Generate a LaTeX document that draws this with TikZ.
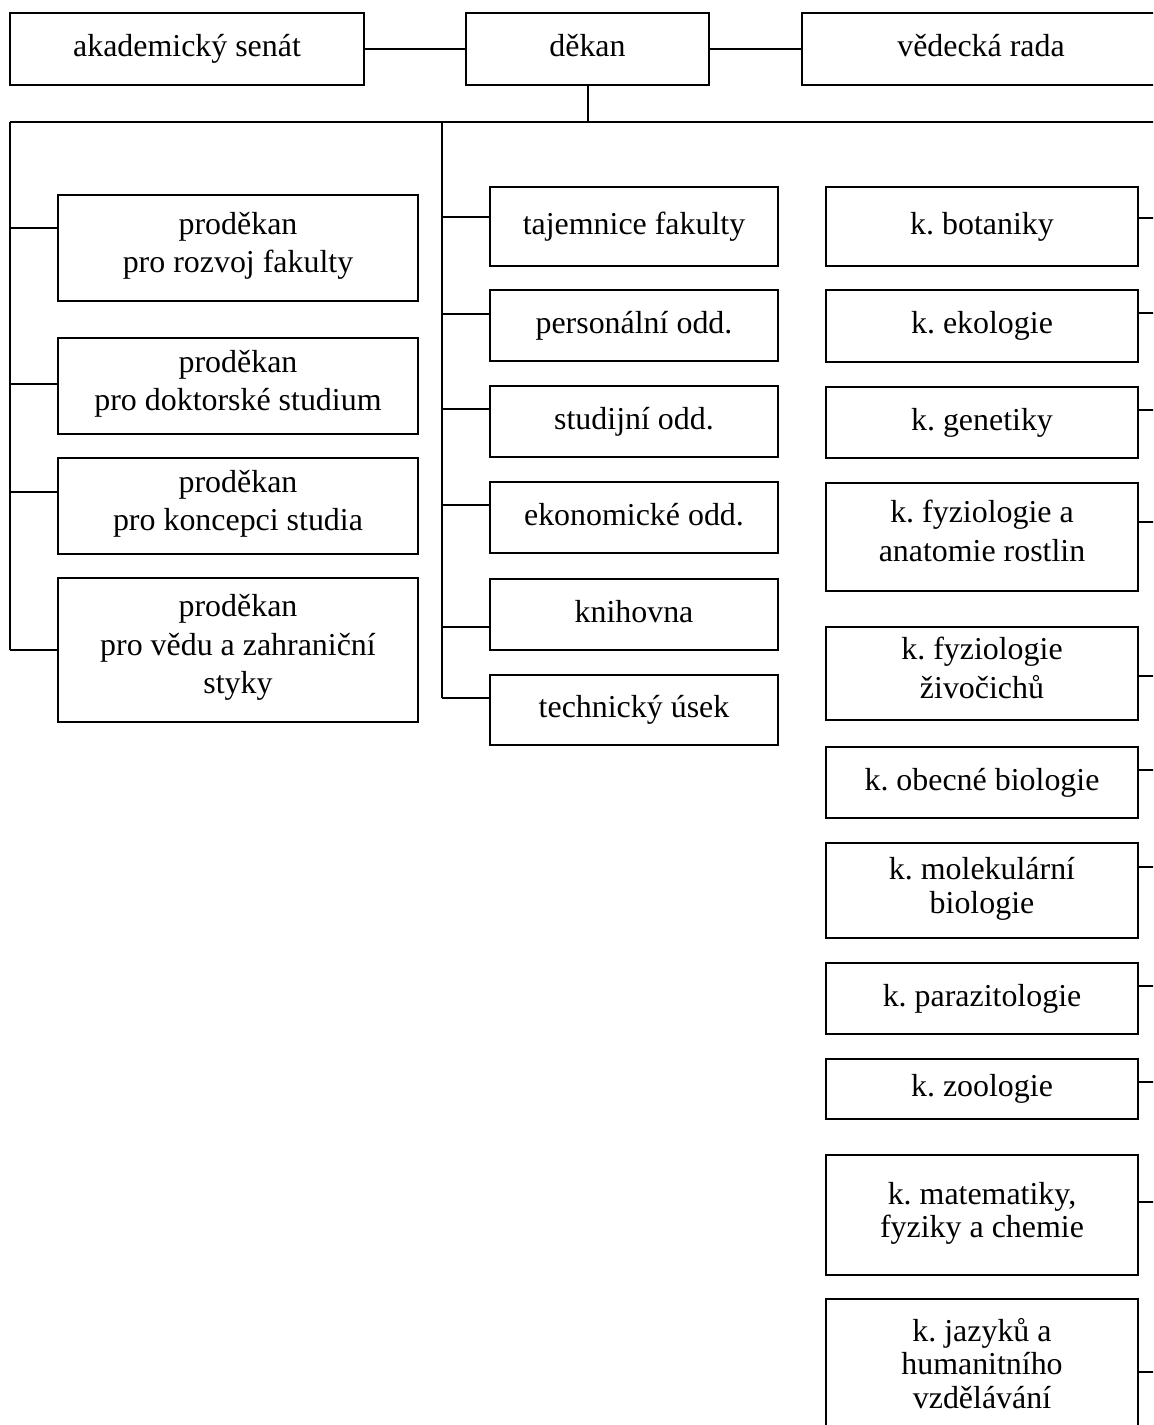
\documentclass[tikz,border=0pt]{standalone}
\usepackage{fontspec}
\setmainfont{Liberation Serif}
\usepackage{tikz}
\usetikzlibrary{positioning}
\frenchspacing

\newcommand\pxu{0.376pt}

\begin{document}
\begin{tikzpicture}[
    x=\pxu, y=-\pxu,
    line width=0.75pt,
    box/.style 2 args={rectangle, draw, align=center, inner sep=0pt,
        minimum width=#1*\pxu, minimum height=#2*\pxu,
        font=\fontsize{12}{14.5}\selectfont,
        execute at begin node=\strut, execute at end node=\strut},
    tight/.style={font=\fontsize{12}{12.6}\selectfont},
    line/.style={draw}
]
\clip (0,0) rectangle (1153,1425);

% top row
\node [box={354}{72}] (senat) at (187,49) {akademický senát};
\node [box={243}{72}] (dekan) at (587.5,49) {děkan};
\node [box={358}{72}] (rada) at (981,49) {vědecká rada};

% bus
\coordinate (lbus) at (10,122);
\coordinate (mbus) at (442,122);
\coordinate (rbus) at (1165,122);

% left column
\node [box={360}{106}] (rozvoj) at (238,248) {proděkan\\pro rozvoj fakulty};
\node [box={360}{96}] (doktor) at (238,386) {proděkan\\pro doktorské studium};
\node [box={360}{96}] (koncepce) at (238,506) {proděkan\\pro koncepci studia};
\node [box={360}{144}] (veda) at (238,650) {proděkan\\pro vědu a zahraniční\\styky};

% middle column
\node [box={288}{79}] (tajemnice) at (634,226.5) {tajemnice fakulty};
\node [box={288}{71}] (personal) at (634,325.5) {personální odd.};
\node [box={288}{71}] (studijni) at (634,421.5) {studijní odd.};
\node [box={288}{71}] (ekonom) at (634,517.5) {ekonomické odd.};
\node [box={288}{71}] (knihovna) at (634,614.5) {knihovna};
\node [box={288}{70}] (technicky) at (634,710) {technický úsek};

% right column
\node [box={312}{79}] (botanika) at (982,226.5) {k. botaniky};
\node [box={312}{72}] (ekologie) at (982,326) {k. ekologie};
\node [box={312}{71}] (genetika) at (982,422.5) {k. genetiky};
\node [box={312}{108}] (fyzrost) at (982,536.5) {k. fyziologie a\\anatomie rostlin};
\node [box={312}{93}] (fyzziv) at (982,673.5) {k. fyziologie\\živočichů};
\node [box={312}{71}] (obecna) at (982,782.5) {k. obecné biologie};
\node [box={312}{95}, tight] (molekul) at (982,890.5) {k. molekulární\\biologie};
\node [box={312}{71}] (parazit) at (982,998.5) {k. parazitologie};
\node [box={312}{60}] (zoologie) at (982,1089) {k. zoologie};
\node [box={312}{120}, tight] (matfyz) at (982,1215) {k. matematiky,\\fyziky a chemie};
\node [box={312}{138}, tight] (jazyky) at (982,1368) {k. jazyků a\\humanitního\\vzdělávání};

% connections
\draw [line] (senat) -- (dekan);
\draw [line] (dekan) -- (rada);
\draw [line] (dekan) -- (dekan |- lbus);
\draw [line] (lbus) -- (rbus);
\draw [line] (lbus) -- (lbus |- 0,650);
\draw [line] (mbus) -- (mbus |- 0,698);
\draw [line] (rbus) -- (rbus |- 0,1372);

\foreach \n/\y in {rozvoj/228, doktor/384, koncepce/492, veda/650}
    \draw [line] (lbus |- 0,\y) -- (\n.west |- 0,\y);
\foreach \n/\y in {tajemnice/217, personal/314, studijni/409, ekonom/505, knihovna/627, technicky/698}
    \draw [line] (mbus |- 0,\y) -- (\n.west |- 0,\y);
\foreach \n/\y in {botanika/218, ekologie/313, genetika/410, fyzrost/522, fyzziv/676, obecna/770, molekul/867, parazit/986, zoologie/1082, matfyz/1202, jazyky/1372}
    \draw [line] (\n.east |- 0,\y) -- (rbus |- 0,\y);

\end{tikzpicture}
\end{document}
